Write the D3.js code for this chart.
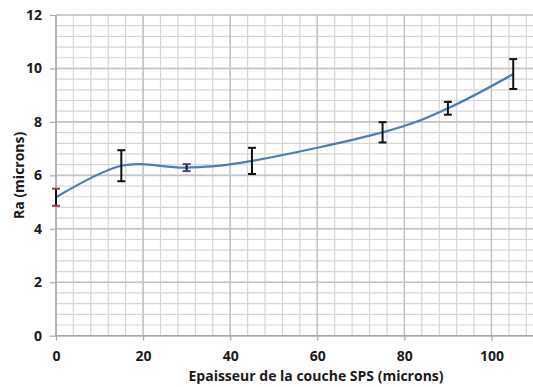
<!DOCTYPE html>
<html><head><meta charset="utf-8">
<script src="https://cdn.jsdelivr.net/npm/d3@7"></script>
<style>
html,body{margin:0;padding:0;background:#fff;}
svg{display:block;}
text{font-family:"Open Sans","Liberation Sans",sans-serif;font-weight:bold;fill:#1a1a1a;}
</style></head>
<body>
<svg id="chart" width="533" height="387"></svg>
<script>
const thickness = [0, 15, 30, 45, 75, 90, 105];
const ra = [5.18, 6.36, 6.29, 6.54, 7.61, 8.51, 9.79];
const raErr = [0.32, 0.58, 0.13, 0.49, 0.38, 0.24, 0.56];
const xTicks = [0, 20, 40, 60, 80, 100];
const yTicks = [0, 2, 4, 6, 8, 10, 12];
const xTitle = "Epaisseur de la couche SPS (microns)";
const yTitle = "Ra (microns)";
const capColors = ["#a33a3a", "#111", "#5a3f7a", "#111", "#111", "#111", "#111"];

const svg = d3.select("#chart");
const x = d3.scaleLinear().domain([0, 110]).range([56, 535]);
const y = d3.scaleLinear().domain([0, 12]).range([335.7, 15]);

const g = svg.append("g");
// minor grid
const xMinor = d3.range(0, 112, 4);
const yMinor = d3.range(0, 12.01, 0.4);
g.selectAll(".vminor").data(xMinor).enter().append("line")
  .attr("x1", d => x(d)).attr("x2", d => x(d)).attr("y1", y(0)).attr("y2", y(12))
  .attr("stroke", "#d6d6d6").attr("stroke-width", 1.2);
g.selectAll(".hminor").data(yMinor).enter().append("line")
  .attr("x1", x(0)).attr("x2", 533).attr("y1", d => y(d)).attr("y2", d => y(d))
  .attr("stroke", "#d6d6d6").attr("stroke-width", 1.2);
// major grid
g.selectAll(".vmajor").data(xTicks).enter().append("line")
  .attr("x1", d => x(d)).attr("x2", d => x(d)).attr("y1", y(0)).attr("y2", y(12))
  .attr("stroke", "#bbbbbb").attr("stroke-width", 1.2);
g.selectAll(".hmajor").data(yTicks).enter().append("line")
  .attr("x1", x(0)).attr("x2", 533).attr("y1", d => y(d)).attr("y2", d => y(d))
  .attr("stroke", "#c4c4c4").attr("stroke-width", 1.6);

// axes
const yAxis = d3.axisLeft(y).tickValues(yTicks).tickSize(6).tickPadding(8).tickFormat(d3.format("d"));
const xAxis = d3.axisBottom(x).tickValues(xTicks).tickSize(5).tickPadding(10).tickFormat(d3.format("d"));
const ya = svg.append("g").attr("transform", `translate(${x(0)},0)`).call(yAxis);
const xa = svg.append("g").attr("transform", `translate(0,${y(0)})`).call(xAxis);
[ya, xa].forEach(a => {
  a.select(".domain").remove();
  a.selectAll(".tick line").attr("stroke", "#a8a8a8").attr("stroke-width", 1.2);
  a.selectAll(".tick text").style("font-size", "14px").attr("fill", "#1a1a1a");
});
xa.selectAll(".tick text").attr("dy", "0.71em");
svg.append("line").attr("x1", x(0)).attr("x2", x(0)).attr("y1", y(12)).attr("y2", y(0))
  .attr("stroke", "#a8a8a8").attr("stroke-width", 1.4);
svg.append("line").attr("x1", x(0)).attr("x2", 533).attr("y1", y(0)).attr("y2", y(0))
  .attr("stroke", "#a8a8a8").attr("stroke-width", 1.4);

// titles
svg.append("text").attr("x", 316).attr("y", 381).attr("text-anchor", "middle")
  .style("font-size", "14px").text(xTitle);
svg.append("text").attr("transform", `translate(24,${(y(0)+y(12))/2}) rotate(-90)`)
  .attr("text-anchor", "middle").style("font-size", "14px").text(yTitle);

// line
const pts = thickness.map((t, i) => [x(t), y(ra[i])]);
svg.append("path").attr("d", d3.line().curve(d3.curveCardinal.tension(0))(pts))
  .attr("fill", "none").attr("stroke", "#4a7ebb").attr("stroke-width", 2.2);

// error bars
const eb = svg.append("g");
thickness.forEach((t, i) => {
  const cx = x(t), top = y(ra[i] + raErr[i]), bot = y(ra[i] - raErr[i]);
  eb.append("line").attr("x1", cx).attr("x2", cx).attr("y1", top).attr("y2", bot)
    .attr("stroke", "#111").attr("stroke-width", 2);
  [top, bot].forEach(yy => eb.append("line").attr("x1", cx - 4).attr("x2", cx + 4)
    .attr("y1", yy).attr("y2", yy).attr("stroke", capColors[i]).attr("stroke-width", 2));
});
</script>
</body></html>
